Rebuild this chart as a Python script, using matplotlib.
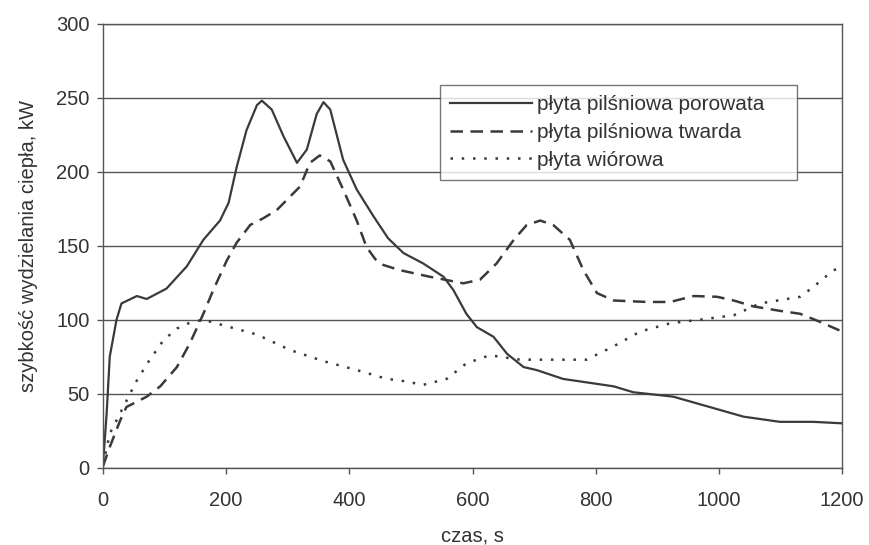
import matplotlib.pyplot as plt

plt.rcParams["font.family"] = ["Liberation Sans", "DejaVu Sans"]

# dane
czas_porowata = [0, 6, 11, 22, 30, 55, 71, 103, 136, 163, 190, 204, 217, 233, 250, 258,
                 274, 293, 315, 331, 347, 358, 369, 390, 412, 439, 463, 488, 520, 553,
                 569, 590, 607, 634, 656, 683, 704, 747, 829, 861, 926, 964, 1040, 1099,
                 1153, 1200]
hrr_porowata = [2, 37, 75, 100, 111, 116, 114, 121, 136, 154, 167, 179, 203, 228, 245, 248,
                242, 224, 206, 215, 239, 247, 242, 208, 188, 170, 155, 145, 138, 129,
                120, 104, 95, 88.5, 77, 68, 66, 60, 55, 51, 48, 43.5, 34.5, 31,
                31, 30]

czas_twarda = [0, 11, 28, 38, 71, 93, 120, 141, 163, 179, 201, 217, 239, 260, 282, 320,
               336, 352, 369, 390, 412, 428, 442, 455, 482, 531, 585, 612, 639, 667, 688,
               710, 731, 758, 780, 802, 829, 883, 921, 959, 997, 1024, 1056, 1099, 1132,
               1164, 1200]
hrr_twarda = [1, 14, 32, 41, 48, 55, 68, 84, 104, 120, 140, 152, 164, 168.5, 174, 190,
              206, 211, 207, 188, 167, 149, 141, 137, 133.5, 129, 124.6, 127, 138, 154, 164,
              167, 164, 154, 133.5, 118, 113, 112, 112, 116, 115.5, 113, 109, 106, 104,
              98.6, 92]

czas_wiorowa = [0, 11, 33, 55, 76, 98, 120, 141, 163, 206, 250, 304, 358, 412, 461, 482,
                520, 558, 590, 628, 677, 785, 829, 872, 921, 969, 1024, 1067, 1132, 1153,
                1186, 1200]
hrr_wiorowa = [2, 23, 41, 59, 73, 86, 94, 98, 100, 95, 90, 79.5, 72, 66, 60, 59,
               56, 60, 70.5, 76, 73, 73, 82, 92, 97.6, 100, 103, 111, 115.5, 122,
               133.5, 135]

etykiety = ["płyta pilśniowa porowata", "płyta pilśniowa twarda", "płyta wiórowa"]

kolor = "#3a3a3a"
fs = 14.5

fig = plt.figure(figsize=(8.69, 5.45), dpi=100)
ax = fig.add_axes([0.1185, 0.1418, 0.8505, 0.8147])

ax.plot(czas_porowata, hrr_porowata, color=kolor, lw=1.6, label=etykiety[0])
ax.plot(czas_twarda, hrr_twarda, color=kolor, lw=1.8, linestyle=(0, (5, 3)), label=etykiety[1])
ax.plot(czas_wiorowa, hrr_wiorowa, color=kolor, lw=1.8, linestyle=(0, (1, 3.5)), label=etykiety[2])

ax.set_xlim(0, 1200)
ax.set_ylim(0, 300)
ax.set_xticks(range(0, 1201, 200))
ax.set_yticks(range(0, 301, 50))
ax.yaxis.grid(True, color="#555555", lw=1.0)
ax.set_axisbelow(True)
for s in ax.spines.values():
    s.set_color("#555555")
    s.set_linewidth(1.0)
ax.tick_params(colors="#555555", labelcolor="#333333", labelsize=fs, length=4.5, width=1.0)
ax.tick_params(axis="y", pad=5)
ax.tick_params(axis="x", pad=12)

ax.set_xlabel("czas, s", fontsize=fs, color="#333333", labelpad=12)
ax.set_ylabel("szybkość wydzielania ciepła, kW", fontsize=fs, color="#333333", labelpad=13)

leg = ax.legend(loc="upper left", bbox_to_anchor=(0.456, 0.6625, 0.483, 0.2), mode="expand",
                fontsize=15, frameon=True, fancybox=False, handlelength=3.9,
                handletextpad=0.25, borderpad=0.5, labelspacing=0.42, borderaxespad=0)
leg.get_frame().set_edgecolor("#555555")
leg.get_frame().set_linewidth(1.0)
for t in leg.get_texts():
    t.set_color("#333333")

plt.savefig("out.png", dpi=100)
